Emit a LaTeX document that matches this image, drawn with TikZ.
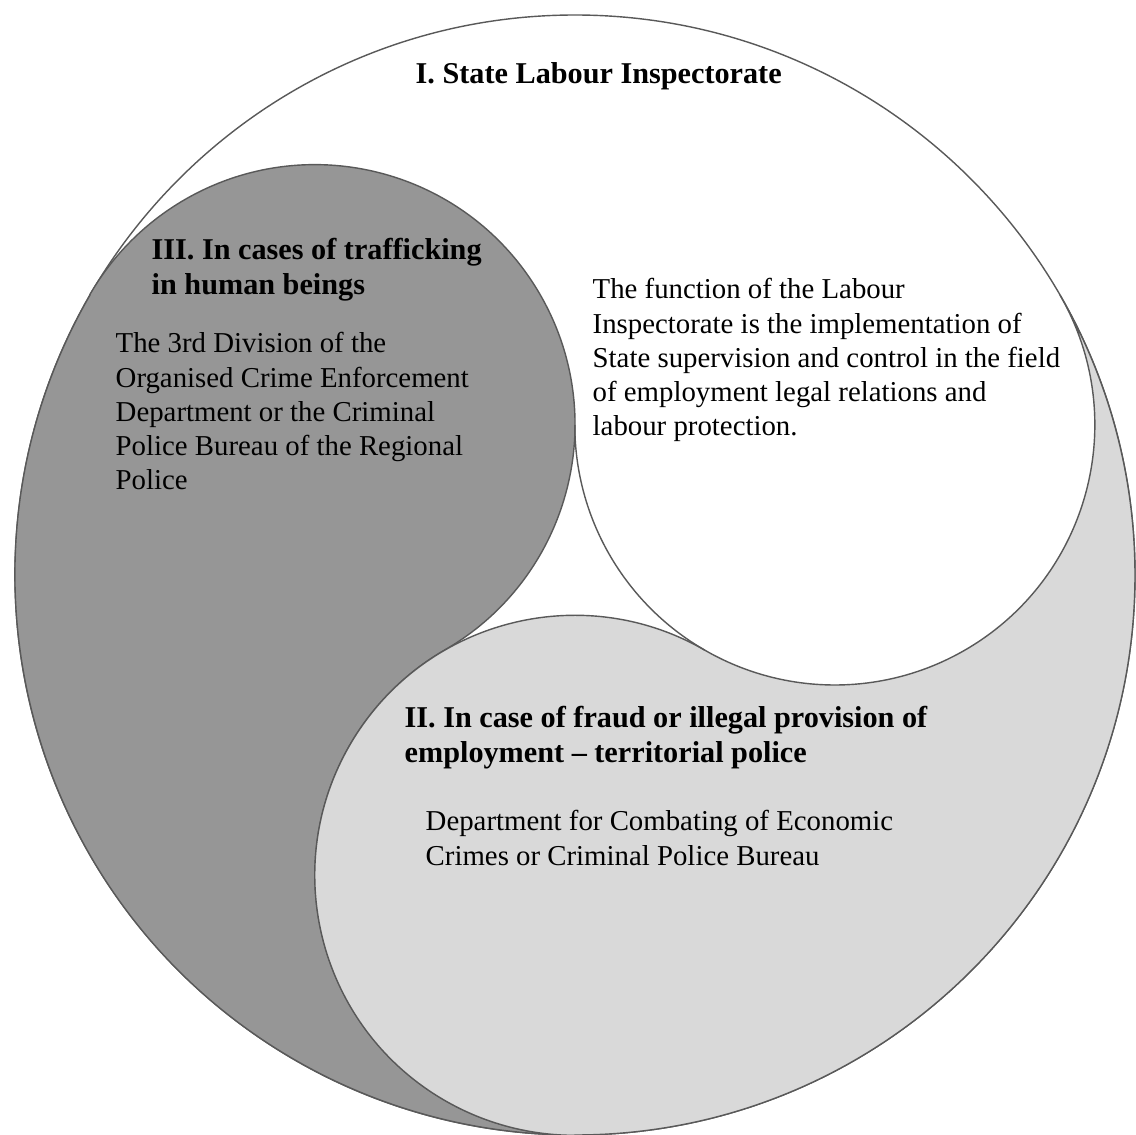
\documentclass[tikz,border=0pt]{standalone}
\usepackage{fontspec}
\setmainfont{Liberation Serif}
\begin{document}
\begin{tikzpicture}
[x=0.1mm, y=0.1mm,
outline/.style={draw=black!65, line width=0.4pt},
darkpart/.style={outline, fill=black!41},
lightpart/.style={outline, fill=black!15},
heading/.style={anchor=north west, inner sep=0pt, align=left, font=\bfseries\fontsize{8.6}{9.7}\selectfont},
body/.style={anchor=north west, inner sep=0pt, align=left, font=\fontsize{8.2}{9.7}\selectfont}]
\useasboundingbox (0,0) rectangle (1135,1135);
\coordinate (O) at (575,560);
\coordinate (labour) at ([shift={(30:300)}]O);
\coordinate (police) at ([shift={(150:300)}]O);
\coordinate (fraudc) at ([shift={(270:300)}]O);
\draw[outline, fill=white] (O) circle[radius=560];
\draw[darkpart] ([shift={(150:560)}]O) arc[start angle=150, end angle=270, radius=560]
  arc[start angle=270, end angle=120, radius=260]
  arc[start angle=-60, end angle=150, radius=260] -- cycle;
\draw[lightpart] ([shift={(-90:560)}]O) arc[start angle=-90, end angle=30, radius=560]
  arc[start angle=30, end angle=-120, radius=260]
  arc[start angle=60, end angle=270, radius=260] -- cycle;
\draw[outline] ([shift={(180:260)}]labour) arc[start angle=180, end angle=240, radius=260];
\node[heading] (state) at (415,1073) {I. State Labour Inspectorate};
\node[body] (function) at (592,857) {The function of the Labour\\Inspectorate is the implementation of\\State supervision and control in the field\\of employment legal relations and\\labour protection.};
\node[heading] (traffick) at (151,897) {III. In cases of trafficking\\in human beings};
\node[body] (division) at (115,803) {The 3rd Division of the\\Organised Crime Enforcement\\Department or the Criminal\\Police Bureau of the Regional\\Police};
\node[heading] (fraud) at (404,429) {II. In case of fraud or illegal provision of\\employment -- territorial police};
\node[body] (economic) at (425,325) {Department for Combating of Economic\\Crimes or Criminal Police Bureau};
\end{tikzpicture}
\end{document}
